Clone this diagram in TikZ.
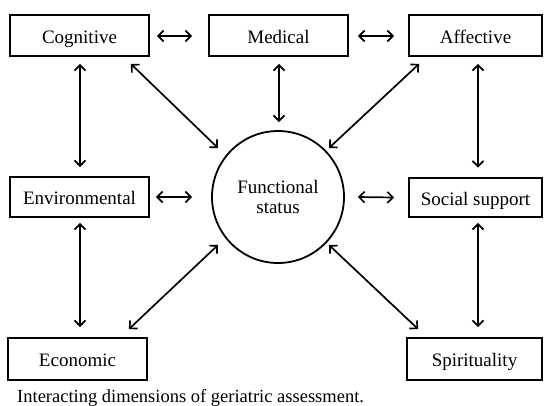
\documentclass[tikz,border=0pt]{standalone}
\usepackage{fontspec}
\setmainfont{Liberation Serif}
\usetikzlibrary{arrows.meta}
\begin{document}
\begin{tikzpicture}[x=1pt,y=-1pt,
  dimbox/.style={draw,line width=1.8pt,minimum height=41pt,inner sep=0pt,
    text height=15pt,text depth=0pt,
    font=\fontsize{19}{22}\selectfont},
  arr/.style={line width=1.7pt,{Straight Barb[length=5.5pt,width=11pt]}-{Straight Barb[length=5.5pt,width=11pt]}},
  fsnode/.style={draw,circle,line width=1.8pt,minimum size=132pt,inner sep=0pt,
    align=center,font=\fontsize{19}{21}\selectfont}]
\useasboundingbox (0,0) rectangle (544,405);
\node[dimbox,minimum width=139pt] (cog) at (79.5,35.5) {Cognitive};
\node[dimbox,minimum width=139pt] (med) at (278.5,35.5) {Medical};
\node[dimbox,minimum width=133pt] (aff) at (475.5,35.5) {Affective};
\node[dimbox,minimum width=139pt,minimum height=40pt] (env) at (79.5,197) {Environmental};
\node[dimbox,minimum width=133pt,minimum height=39pt] (soc) at (475.5,197.5) {Social support};
\node[dimbox,minimum width=139pt,minimum height=42pt] (eco) at (77.5,359) {Economic};
\node[dimbox,minimum width=135pt,minimum height=42pt] (spi) at (474.5,359) {Spirituality};
\node[fsnode] (fs) at (278,197) {\raisebox{-2pt}{Functional}\\[-1pt]\raisebox{-2pt}{status}};
% horizontal
\draw[arr] ([shift={(7,0.5)}]cog.east) -- ([shift={(-16,0.5)}]med.west);
\draw[arr] ([shift={(9,0.5)}]med.east) -- ([shift={(-14,0.5)}]aff.west);
\draw[arr] ([shift={(6,0)}]env.east) -- ([shift={(-19,0)}]fs.west);
\draw[arr] ([shift={(13,0)}]fs.east) -- ([shift={(-14,0)}]soc.west);
% vertical
\draw[arr] ([shift={(0.5,7)}]cog.south) -- ([shift={(0.5,-9)}]env.north);
\draw[arr] ([shift={(0.5,5)}]env.south) -- ([shift={(2.5,-10)}]eco.north);
\draw[arr] ([shift={(0.5,7)}]med.south) -- ([shift={(1,-8)}]fs.north);
\draw[arr] ([shift={(2.5,7)}]aff.south) -- ([shift={(2.5,-9.5)}]soc.north);
\draw[arr] ([shift={(2.5,5)}]soc.south) -- ([shift={(3.5,-10)}]spi.north);
% diagonals
\draw[arr] ([shift={(-19,7)}]cog.south east) -- ([shift={(-60,-49)}]fs.center);
\draw[arr] ([shift={(11,7)}]aff.south west) -- ([shift={(51,-49)}]fs.center);
\draw[arr] ([shift={(-19,-8)}]eco.north east) -- ([shift={(-60,48)}]fs.center);
\draw[arr] ([shift={(12,-8)}]spi.north west) -- ([shift={(51,48)}]fs.center);
\node[anchor=base west,inner sep=0pt,font=\fontsize{18.5}{22}\selectfont] (cap) at (17,402) {Interacting dimensions of geriatric assessment.};
\end{tikzpicture}
\end{document}
